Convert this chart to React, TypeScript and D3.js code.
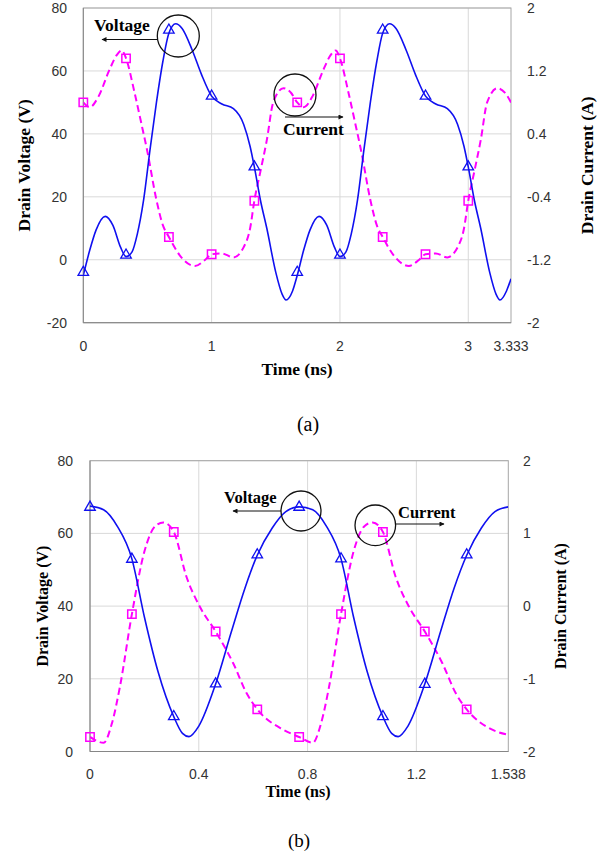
import React from "react";
import * as d3 from "d3";

// ---------- Data ----------
// (a) time in ns, drain voltage in V
const voltageA_t = [0,0.05,0.1,0.17,0.23,0.29,0.333,0.38,0.42,0.47,0.52,0.57,0.62,0.667,0.72,0.77,0.85,0.92,1.0,1.08,1.17,1.25,1.3,1.333,1.38,1.43,1.5,1.55,1.58,1.63,1.667,
  1.717,1.767,1.837,1.897,1.957,2.0,2.047,2.087,2.137,2.187,2.237,2.287,2.333,2.387,2.437,2.517,2.587,2.667,2.747,2.837,2.917,2.967,3.0,3.047,3.097,3.167,3.217,3.247,3.297,3.333];
const voltageA_v = [-5,3,9.5,13.8,11,4,1,2.5,8,19,35,50,63,72,75,73.5,66.5,59,52,49.5,48,43,36,29.5,19,10,-4,-11,-12.8,-10,-5,
  3,9.5,13.8,11,4,1,2.5,8,19,35,50,63,72,75,73.5,66.5,59,52,49.5,48,43,36,29.5,19,10,-4,-11,-12.8,-10,-6];
// (a) drain current in A
const currentA_t = [0,0.05,0.12,0.2,0.26,0.3,0.333,0.4,0.45,0.5,0.57,0.62,0.667,0.75,0.87,0.95,1.0,1.08,1.17,1.25,1.3,1.333,1.38,1.43,1.48,1.56,1.62,1.667,
  1.717,1.787,1.867,1.927,1.967,2.0,2.067,2.117,2.167,2.237,2.287,2.333,2.417,2.537,2.617,2.667,2.747,2.837,2.917,2.967,3.0,3.047,3.097,3.147,3.227,3.287,3.333];
const currentA_i = [0.8,0.74,0.88,1.2,1.4,1.46,1.36,0.92,0.55,0.17,-0.44,-0.76,-0.91,-1.14,-1.28,-1.2,-1.13,-1.12,-1.17,-1.04,-0.8,-0.45,-0.08,0.32,0.8,0.98,0.92,0.8,
  0.74,0.88,1.2,1.4,1.46,1.36,0.92,0.55,0.17,-0.44,-0.76,-0.91,-1.14,-1.28,-1.2,-1.13,-1.12,-1.17,-1.04,-0.8,-0.45,-0.08,0.32,0.8,0.98,0.92,0.8];
const markA_t = [0,0.333,0.667,1.0,1.333,1.667,2.0,2.333,2.667,3.0];
const markA_v = [-4,1.5,73,52,29.5,-4,1.5,73,52,29.5];
const markA_i = [0.8,1.36,-0.91,-1.13,-0.45,0.8,1.36,-0.91,-1.13,-0.45];

// (b)
const voltageB_t = [0,0.05,0.1,0.154,0.2,0.25,0.308,0.34,0.364,0.4,0.462,0.52,0.57,0.615,0.67,0.72,0.769,0.819,0.869,0.923,0.969,1.019,1.077,1.109,1.133,1.169,1.231,1.289,1.339,1.385,1.439,1.489,1.538];
const voltageB_v = [67.5,66.5,62,53,37,22,9.6,5,4.1,7,18.6,33,45,54,61.5,66,67.3,66.5,62,53,37,22,9.6,5,4.1,7,18.6,33,45,54,61.5,66,67.3];
const currentB_t = [0,0.05,0.08,0.11,0.154,0.2,0.24,0.27,0.308,0.355,0.404,0.462,0.527,0.576,0.615,0.71,0.769,0.819,0.849,0.879,0.923,0.969,1.009,1.039,1.077,1.124,1.173,1.231,1.296,1.345,1.385,1.479,1.538];
const currentB_i = [-1.8,-1.88,-1.62,-1.11,-0.11,0.75,1.1,1.15,1.02,0.4,-0.01,-0.35,-0.79,-1.2,-1.42,-1.7,-1.8,-1.88,-1.62,-1.11,-0.11,0.75,1.1,1.15,1.02,0.4,-0.01,-0.35,-0.79,-1.2,-1.42,-1.7,-1.77];
const markB_t = [0,0.154,0.308,0.462,0.615,0.769,0.923,1.077,1.231,1.385];
const markB_v = [67.2,52.9,9.6,18.6,54.1,67.2,53,9.6,18.5,54.1];
const markB_i = [-1.8,-0.11,1.02,-0.35,-1.42,-1.8,-0.11,1.02,-0.35,-1.42];

const ticksA_x = [0, 1, 2, 3, 3.333];
const ticksA_yl = [-20, 0, 20, 40, 60, 80];
const ticksA_yr = [-2, -1.2, -0.4, 0.4, 1.2, 2];
const ticksB_x = [0, 0.4, 0.8, 1.2, 1.538];
const ticksB_yl = [0, 20, 40, 60, 80];
const ticksB_yr = [-2, -1, 0, 1, 2];

const BLUE = "#1010f0";
const MAGENTA = "#ff00ff";
const SANS = "Liberation Sans, Arial, sans-serif";
const SERIF = "Liberation Serif, Times New Roman, serif";

type Ann = { text: string; tx: number; ty: number; cx: number; cy: number; r: number; ax1: number; ax2: number; ay: number };

function Panel(props: {
  box: [number, number, number, number];
  xDomain: [number, number];
  yl: [number, number];
  yr: [number, number];
  xt: number[]; ylt: number[]; yrt: number[];
  vt: number[]; vv: number[]; ct: number[]; ci: number[];
  mt: number[]; mv: number[]; mi: number[];
  leftLabelX: number; rightLabelX: number; xLabelY: number; timeY: number; timeX: number;
  leftTitleX: number; rightTitleX: number; titleSize: number; annSize: number;
  caption: string; captionY: number; captionX: number; captionSize: number;
  anns: Ann[];
  clipId: string;
}) {
  const [L, T, R, B] = props.box;
  const x = d3.scaleLinear().domain(props.xDomain).range([L, R]);
  const y = d3.scaleLinear().domain(props.yl).range([B, T]);
  const y2 = d3.scaleLinear().domain(props.yr).range([B, T]);
  const curve = d3.curveMonotoneX;
  const vLine = d3.line<number>().x((_, i) => x(props.vt[i])).y((d) => y(d)).curve(curve)(props.vv) || "";
  const cLine = d3.line<number>().x((_, i) => x(props.ct[i])).y((d) => y2(d)).curve(curve)(props.ci) || "";
  const tri = d3.symbol().type(d3.symbolTriangle).size(48)() || "";
  const sq = d3.symbol().type(d3.symbolSquare).size(70)() || "";
  const cy = (T + B) / 2;
  return (
    <g>
      <defs>
        <clipPath id={props.clipId}><rect x={L} y={T - 2} width={R - L} height={B - T + 4} /></clipPath>
      </defs>
      {props.ylt.map((t) => (
        <line key={"h" + t} x1={L} x2={R} y1={y(t)} y2={y(t)} stroke="#d9d9d9" strokeWidth={1} />
      ))}
      {props.xt.slice(1, -1).map((t) => (
        <line key={"v" + t} x1={x(t)} x2={x(t)} y1={T} y2={B} stroke="#d9d9d9" strokeWidth={1} />
      ))}
      <rect x={L} y={T} width={R - L} height={B - T} fill="none" stroke="#a6a6a6" strokeWidth={1} />
      <line x1={L} x2={L} y1={T} y2={B} stroke="#868686" />
      <line x1={L} x2={R} y1={B} y2={B} stroke="#868686" />
      <g clipPath={`url(#${props.clipId})`}>
        <path d={cLine} fill="none" stroke={MAGENTA} strokeWidth={2} strokeDasharray="7,4" />
        <path d={vLine} fill="none" stroke={BLUE} strokeWidth={1.6} />
      </g>
      {props.mt.map((t, i) => (
        <path key={"s" + i} d={sq} transform={`translate(${x(t)},${y2(props.mi[i])})`} fill="none" stroke={MAGENTA} strokeWidth={1.5} />
      ))}
      {props.mt.map((t, i) => (
        <path key={"t" + i} d={tri} transform={`translate(${x(t)},${y(props.mv[i])})`} fill="none" stroke={BLUE} strokeWidth={1.3} />
      ))}
      {props.ylt.map((t) => (
        <text key={"yl" + t} x={props.leftLabelX} y={y(t) + 5} textAnchor="end" fontFamily={SANS} fontSize={14} fill="#333">{t}</text>
      ))}
      {props.yrt.map((t) => (
        <text key={"yr" + t} x={props.rightLabelX} y={y2(t) + 5} textAnchor="start" fontFamily={SANS} fontSize={14} fill="#333">{t}</text>
      ))}
      {props.xt.map((t) => (
        <text key={"xt" + t} x={x(t)} y={props.xLabelY} textAnchor="middle" fontFamily={SANS} fontSize={14} fill="#333">{t}</text>
      ))}
      <text x={props.timeX} y={props.timeY} textAnchor="middle" fontFamily={SERIF} fontWeight="bold" fontSize={props.titleSize}>Time (ns)</text>
      <text transform={`translate(${props.leftTitleX},${cy}) rotate(-90)`} textAnchor="middle" dominantBaseline="central" fontFamily={SERIF} fontWeight="bold" fontSize={props.titleSize}>Drain Voltage (V)</text>
      <text transform={`translate(${props.rightTitleX},${cy}) rotate(-90)`} textAnchor="middle" dominantBaseline="central" fontFamily={SERIF} fontWeight="bold" fontSize={props.titleSize}>Drain Current (A)</text>
      {props.anns.map((a, i) => (
        <g key={"a" + i}>
          <circle cx={a.cx} cy={a.cy} r={a.r} fill="none" stroke="#111" strokeWidth={1.3} />
          <text x={a.tx} y={a.ty} fontFamily={SERIF} fontWeight="bold" fontSize={props.annSize}>{a.text}</text>
          <line x1={a.ax1} x2={a.ax2} y1={a.ay} y2={a.ay} stroke="#111" strokeWidth={1} markerEnd="url(#arrowHead)" />
        </g>
      ))}
      <text x={props.captionX} y={props.captionY} textAnchor="middle" fontFamily={SERIF} fontSize={props.captionSize}>{props.caption}</text>
    </g>
  );
}

export default function App() {
  return (
    <svg width={608} height={857} style={{ position: "absolute", left: 0, top: 0, background: "#fff" }}>
      <defs>
        <marker id="arrowHead" viewBox="0 0 10 10" refX={9} refY={5} markerWidth={7} markerHeight={5} orient="auto" markerUnits="userSpaceOnUse">
          <path d="M0,0 L10,5 L0,10 z" fill="#111" />
        </marker>
      </defs>
      <Panel
        box={[83.3, 8, 511, 322.7]}
        xDomain={[0, 3.333]} yl={[-20, 80]} yr={[-2, 2]}
        xt={ticksA_x} ylt={ticksA_yl} yrt={ticksA_yr}
        vt={voltageA_t} vv={voltageA_v} ct={currentA_t} ci={currentA_i}
        mt={markA_t} mv={markA_v} mi={markA_i}
        leftLabelX={67} rightLabelX={527} xLabelY={351} timeY={375} timeX={297}
        leftTitleX={24} rightTitleX={587} titleSize={17.5} annSize={17.5}
        caption="(a)" captionY={431} captionX={308} captionSize={20}
        clipId="clipA"
        anns={[
          { text: "Voltage", tx: 94, ty: 31, cx: 178.3, cy: 36, r: 21, ax1: 157, ax2: 102, ay: 39.5 },
          { text: "Current", tx: 283, ty: 135, cx: 295, cy: 95, r: 21, ax1: 285, ax2: 343, ay: 117 },
        ]}
      />
      <Panel
        box={[90, 460.7, 508.3, 751.5]}
        xDomain={[0, 1.538]} yl={[0, 80]} yr={[-2, 2]}
        xt={ticksB_x} ylt={ticksB_yl} yrt={ticksB_yr}
        vt={voltageB_t} vv={voltageB_v} ct={currentB_t} ci={currentB_i}
        mt={markB_t} mv={markB_v} mi={markB_i}
        leftLabelX={73} rightLabelX={523} xLabelY={779} timeY={797} timeX={298}
        leftTitleX={42} rightTitleX={560} titleSize={16} annSize={16.5}
        caption="(b)" captionY={847} captionX={299} captionSize={19}
        clipId="clipB"
        anns={[
          { text: "Voltage", tx: 224, ty: 503, cx: 301, cy: 511, r: 20, ax1: 281, ax2: 233, ay: 511 },
          { text: "Current", tx: 398, ty: 518, cx: 375.3, cy: 525.3, r: 20.3, ax1: 395, ax2: 444, ay: 524 },
        ]}
      />
    </svg>
  );
}
